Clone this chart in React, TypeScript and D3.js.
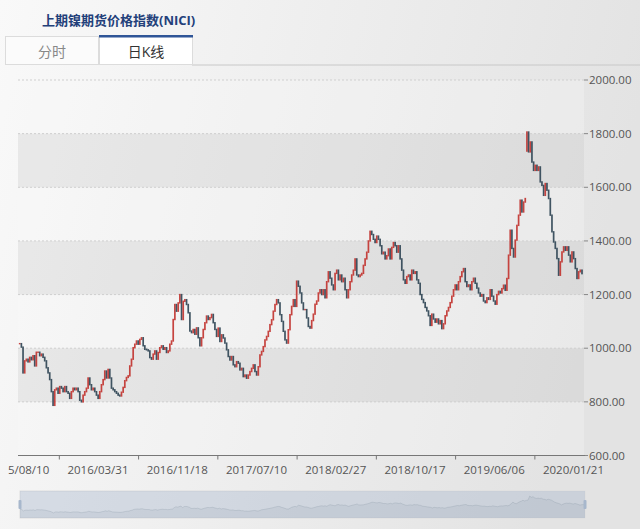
import React, { useEffect, useRef } from "react";
import * as d3 from "d3";

const title = "上期镍期货价格指数(NICI)";
const tabLabels = ["分时", "日K线"];
const dateLabels = [
  "2015/08/10",
  "2016/03/31",
  "2016/11/18",
  "2017/07/10",
  "2018/02/27",
  "2018/10/17",
  "2019/06/06",
  "2020/01/21",
];
// samples between two date labels on the category axis
const labelEvery = 47.5;
const yTicks = [600, 800, 1000, 1200, 1400, 1600, 1800, 2000];

// closing values in order
const close2015 = [
  1017, 1004, 908, 953, 959, 949, 966, 957, 972, 934,
  985, 985, 972, 978, 966, 953, 927, 908, 883, 838,
  787, 845, 851, 832, 857, 851, 838, 857, 838, 832,
  813, 838, 851, 845, 851, 838, 806, 800, 825, 838,
  851, 889, 864, 845, 851, 838, 825, 813, 838, 864,
  883, 915, 889, 921, 889, 851, 845, 838, 832, 825,
  822,
];
const close2016 = [
  836, 854, 879, 891, 897, 934, 959, 1002, 1015, 1027,
  1015, 1033, 1039, 1009, 996, 994, 990, 965, 959, 978,
  990, 959, 984, 1002, 1009, 996, 1002, 984, 990, 1015,
  1027, 1107, 1163, 1138, 1169, 1200, 1107, 1175, 1181, 1163,
  1132, 1064, 1058, 1070, 1052, 1076, 1039, 1009, 1039, 1070,
  1095, 1120, 1107, 1114, 1126, 1095, 1070,
];
const close2017 = [
  1044, 1075, 1025, 1050, 1038, 1019, 994, 969, 956, 969,
  938, 931, 950, 944, 919, 925, 894, 900, 888, 900,
  913, 925, 938, 913, 900, 931, 975, 988, 1006, 1031,
  1044, 1063, 1088, 1106, 1138, 1163, 1181, 1169, 1125, 1100,
  1063, 1031, 1019, 1069, 1125, 1156, 1181, 1156, 1250, 1231,
  1206, 1169, 1144, 1144, 1113, 1081, 1075,
];
const close2018 = [
  1103, 1127, 1164, 1176, 1206, 1218, 1200, 1218, 1188, 1248,
  1285, 1261, 1236, 1218, 1279, 1291, 1255, 1273, 1248, 1261,
  1218, 1188, 1218, 1248, 1273, 1291, 1333, 1273, 1267, 1273,
  1279, 1309, 1333, 1358, 1400, 1436, 1424, 1406, 1394, 1418,
  1406, 1382, 1352, 1358, 1333, 1345, 1370, 1333, 1376, 1394,
  1382, 1358, 1382, 1333, 1291, 1255, 1242,
];
const close2019a = [
  1267, 1273, 1255, 1291, 1279, 1285, 1255, 1242, 1200, 1182,
  1170, 1152, 1139, 1121, 1085, 1127, 1109, 1097, 1109, 1091,
  1103, 1073, 1091, 1121, 1139, 1152, 1170, 1194, 1218, 1236,
  1218, 1248, 1267, 1285, 1297, 1248, 1230, 1236, 1218, 1248,
  1261, 1242, 1224, 1206, 1194, 1200, 1176, 1170, 1188, 1182,
  1218, 1194, 1176, 1164, 1200, 1212, 1206,
];
const close2019b = [
  1222, 1235, 1216, 1260, 1347, 1440, 1372, 1340, 1403, 1458,
  1496, 1552, 1508, 1545, 1558, 1806, 1732, 1769, 1694, 1663,
  1682, 1663, 1676, 1620, 1607, 1570, 1614, 1589, 1558, 1496,
  1434, 1396, 1372, 1334, 1272, 1322, 1359, 1378, 1365, 1378,
  1347, 1322, 1359, 1334, 1297, 1260, 1285, 1291, 1278,
];
// candles that opened on a gap: [sample index, open]
const gapOpens: [number, number][] = [[304, 1735]];

const closes = [
  ...close2015,
  ...close2016,
  ...close2017,
  ...close2018,
  ...close2019a,
  ...close2019b,
];

const W = 640;
const H = 529;
const grid = { left: 18, right: 584, top: 80, bottom: 455.5 };
const upColor = "#c23531";
const downColor = "#314656";
const font = "'Open Sans', 'Noto Sans CJK SC', sans-serif";

const App = () => {
  const svgRef = useRef<SVGSVGElement>(null);

  useEffect(() => {
    const svg = d3.select(svgRef.current);
    svg.selectAll("*").remove();

    const defs = svg.append("defs");
    const grad = defs
      .append("linearGradient")
      .attr("id", "bg")
      .attr("x1", 0)
      .attr("y1", 0)
      .attr("x2", 1)
      .attr("y2", 0.2);
    grad.append("stop").attr("offset", "0%").attr("stop-color", "#f9f9f9");
    grad.append("stop").attr("offset", "100%").attr("stop-color", "#e3e3e3");
    defs
      .append("clipPath")
      .attr("id", "chartClip")
      .append("rect")
      .attr("x", 6)
      .attr("y", 0)
      .attr("width", W - 6)
      .attr("height", H);

    svg.append("rect").attr("width", W).attr("height", H).attr("fill", "url(#bg)");

    // title + tabs
    svg
      .append("text")
      .attr("x", 42)
      .attr("y", 25)
      .attr("font-family", font)
      .attr("font-size", 13)
      .attr("font-weight", "bold")
      .attr("fill", "#23407a")
      .text(title);

    svg
      .append("line")
      .attr("x1", 192)
      .attr("x2", W)
      .attr("y1", 65)
      .attr("y2", 65)
      .attr("stroke", "#c8c8c8");
    const tabX = [5, 99];
    const tabW = 93;
    tabLabels.forEach((t, i) => {
      const active = i === 1;
      svg
        .append("rect")
        .attr("x", tabX[i] + 0.5)
        .attr("y", 36.5)
        .attr("width", tabW)
        .attr("height", 28)
        .attr("fill", active ? "#ffffff" : "#fbfbfb")
        .attr("stroke", "#dcdcdc");
      if (active) {
        svg
          .append("rect")
          .attr("x", tabX[i])
          .attr("y", 35)
          .attr("width", tabW + 1)
          .attr("height", 2.5)
          .attr("fill", "#2f5597");
      }
      svg
        .append("text")
        .attr("x", tabX[i] + tabW / 2 + 0.5)
        .attr("y", 57)
        .attr("text-anchor", "middle")
        .attr("font-family", font)
        .attr("font-size", 14)
        .attr("fill", active ? "#333" : "#888")
        .text(t);
    });

    // scales
    const n = closes.length;
    const x = d3.scaleLinear().domain([0, n - 1]).range([19.7, 582]);
    const y = d3.scaleLinear().domain([600, 2000]).range([grid.bottom, grid.top]);

    // split areas
    d3.pairs(yTicks).forEach(([a, b], i) => {
      svg
        .append("rect")
        .attr("x", grid.left)
        .attr("width", grid.right - grid.left)
        .attr("y", y(b))
        .attr("height", y(a) - y(b))
        .attr("fill", i % 2 === 0 ? "rgba(250,250,250,0.3)" : "rgba(200,200,200,0.3)");
    });
    yTicks.slice(1).forEach((t) => {
      svg
        .append("line")
        .attr("x1", grid.left)
        .attr("x2", grid.right)
        .attr("y1", y(t))
        .attr("y2", y(t))
        .attr("stroke", "#cfcfcf")
        .attr("stroke-dasharray", "2,2");
    });

    // y axis on the right
    const yAxis = svg.append("g");
    yTicks.forEach((t) => {
      yAxis
        .append("line")
        .attr("x1", grid.right)
        .attr("x2", grid.right + 4)
        .attr("y1", y(t))
        .attr("y2", y(t))
        .attr("stroke", "#888");
      yAxis
        .append("text")
        .attr("x", grid.right + 5)
        .attr("y", y(t))
        .attr("dy", "0.35em")
        .attr("font-family", font)
        .attr("font-size", 11.5)
        .attr("fill", "#555")
        .text(t.toFixed(2));
    });

    // x axis
    const xAxis = svg.append("g").attr("clip-path", "url(#chartClip)");
    xAxis
      .append("line")
      .attr("x1", grid.left)
      .attr("x2", grid.right + 1)
      .attr("y1", grid.bottom)
      .attr("y2", grid.bottom)
      .attr("stroke", "#777");
    dateLabels.forEach((d, k) => {
      const tickX = x((k + 0.5) * labelEvery);
      if (tickX < grid.right) {
        xAxis
          .append("line")
          .attr("x1", tickX)
          .attr("x2", tickX)
          .attr("y1", grid.bottom)
          .attr("y2", grid.bottom + 4)
          .attr("stroke", "#777");
      }
      xAxis
        .append("text")
        .attr("x", x(k * labelEvery) - 1)
        .attr("y", 474)
        .attr("text-anchor", "middle")
        .attr("font-family", font)
        .attr("font-size", 11.5)
        .attr("fill", "#555")
        .text(d);
    });

    // candles: open = previous close unless the day gapped
    const gapMap = new Map(gapOpens);
    const candles = closes.map((c, i) => {
      const open = gapMap.get(i) ?? (i === 0 ? c : closes[i - 1]);
      return { i, open, close: c };
    });
    const bw = 1.7;
    svg
      .append("g")
      .selectAll("rect")
      .data(candles)
      .join("rect")
      .attr("x", (d) => x(d.i) - bw / 2)
      .attr("width", bw)
      .attr("y", (d) => y(Math.max(d.open, d.close)) - 0.7)
      .attr("height", (d) => Math.abs(y(d.open) - y(d.close)) + 1.4)
      .attr("fill", (d) => (d.close >= d.open ? upColor : downColor))
      .attr("fill-opacity", 0.92);

    // data zoom slider
    const nav = { left: 20, right: 585, top: 491, bottom: 518 };
    const [mn, mx] = d3.extent(closes) as [number, number];
    const pad = (mx - mn) * 0.3;
    const nx = d3.scaleLinear().domain([0, n - 1]).range([nav.left, nav.right]);
    const ny = d3
      .scaleLinear()
      .domain([mn - pad, mx + pad])
      .range([nav.bottom, nav.top]);
    svg
      .append("rect")
      .attr("x", nav.left)
      .attr("y", nav.top)
      .attr("width", nav.right - nav.left)
      .attr("height", nav.bottom - nav.top)
      .attr("fill", "none")
      .attr("stroke", "#ddd");
    const area = d3
      .area<number>()
      .x((_, i) => nx(i))
      .y0(nav.bottom)
      .y1((d) => ny(d));
    svg
      .append("path")
      .attr("d", area(closes))
      .attr("fill", "rgba(47,69,84,0.09)");
    const line = d3
      .line<number>()
      .x((_, i) => nx(i))
      .y((d) => ny(d));
    svg
      .append("path")
      .attr("d", line(closes))
      .attr("fill", "none")
      .attr("stroke", "rgba(47,69,84,0.22)")
      .attr("stroke-width", 0.8);
    svg
      .append("rect")
      .attr("x", nav.left)
      .attr("y", nav.top)
      .attr("width", nav.right - nav.left)
      .attr("height", nav.bottom - nav.top)
      .attr("fill", "rgba(167,183,204,0.4)");
    [nav.left, nav.right].forEach((hx) => {
      svg
        .append("rect")
        .attr("x", hx - 1.5)
        .attr("y", (nav.top + nav.bottom) / 2 - 4.5)
        .attr("width", 3)
        .attr("height", 9)
        .attr("rx", 1)
        .attr("fill", "#a7b7cc");
    });
  }, []);

  return (
    <div style={{ position: "absolute", left: 0, top: 0 }}>
      <svg ref={svgRef} width={W} height={H} style={{ display: "block" }} />
    </div>
  );
};

export default App;
